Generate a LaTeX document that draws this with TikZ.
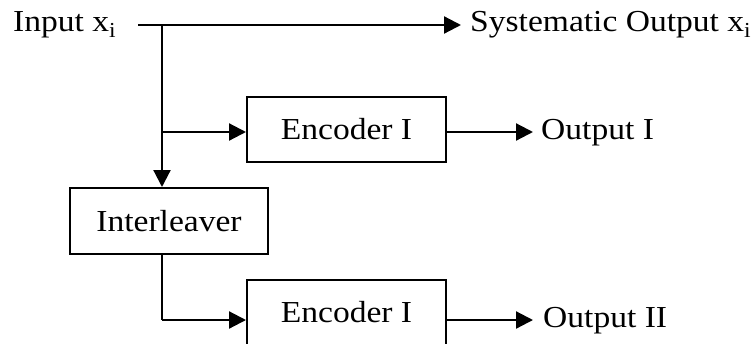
\documentclass[tikz,border=0pt]{standalone}
\usepackage{fontspec}
\setmainfont[FakeStretch=1.1]{Liberation Serif}
\usetikzlibrary{arrows.meta}
\begin{document}
\begin{tikzpicture}[x=1pt,y=-1pt,
  every node/.style={font=\fontsize{30.5}{36}\selectfont},
  blk/.style={draw, line width=2pt, minimum width=199pt, minimum height=65pt, inner sep=0pt},
  lbl/.style={anchor=west, inner sep=0pt},
  conn/.style={line width=2.2pt},
  arr/.style={conn, -{Triangle[length=17pt,width=17pt]}}]
\useasboundingbox (0,0) rectangle (751,343);
\clip (0,0) rectangle (751,343);
\node[lbl] (in) at (13,25) {Input x\textsubscript{i}};
\node[lbl] (sys) at (470,25) {Systematic Output x\textsubscript{i}};
\node[blk] (enc1) at (346.5,129.5) {Encoder I};
\node[blk, minimum width=198pt, minimum height=66pt] (inter) at (169,221) {Interleaver};
\node[blk] (enc2) at (346.5,312.5) {Encoder I};
\node[lbl] (out1) at (541,133) {Output I};
\node[lbl] (out2) at (543,321) {Output II};
\coordinate (s) at (138,25);
\coordinate (j1) at (162,25);
\coordinate (j2) at (162,132);
\coordinate (j3) at (162,320);
\coordinate (t0) at (461,25);
\coordinate (t1) at (533,132);
\coordinate (t2) at (533,320);
\draw[arr] (s) -- (t0);
\draw[arr] (j1) -- (j1 |- inter.north);
\draw[arr] (j2) -- (j2 -| enc1.west);
\draw[conn] (j3 |- inter.south) -- (j3);
\draw[arr] (j3) -- (j3 -| enc2.west);
\draw[arr] (enc1.east |- j2) -- (t1);
\draw[arr] (enc2.east |- j3) -- (t2);
\end{tikzpicture}
\end{document}
